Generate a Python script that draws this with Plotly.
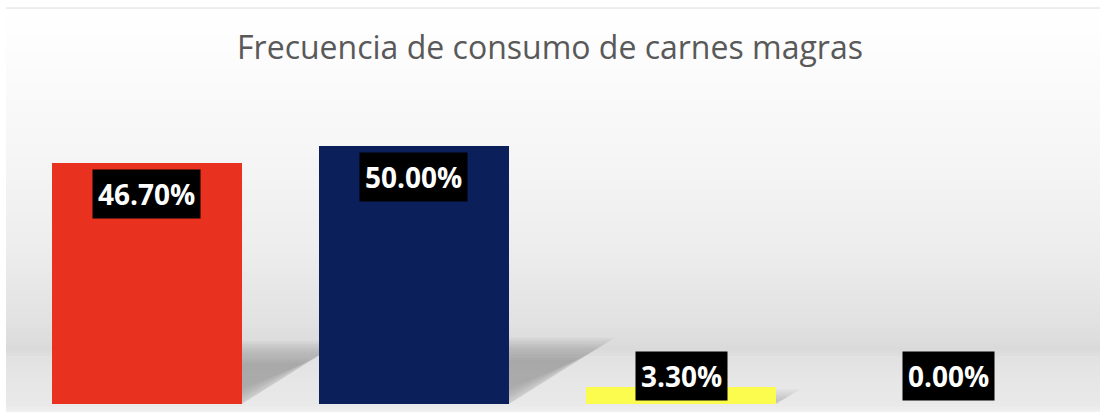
import numpy as np
import plotly.graph_objects as go

# Chart data
categories = ["Diario", "Semanal", "Mensual", "Nunca"]
values = [46.7, 50.0, 3.3, 0.0]
bar_colors = ["#E8311F", "#0B1F5B", "#FCFC4E", "#70AD47"]
title_text = "Frecuencia de consumo de carnes magras"

W, H = 1100, 412
M_L, M_R, M_T, M_B = 13, 18, 94, 8
PLOT_H = H - M_T - M_B
Y_MAX = 60.1
BAR_W = 0.71

x_pos = list(range(len(categories)))

fig = go.Figure()
fig.add_trace(go.Bar(
    x=x_pos, y=values, width=BAR_W,
    marker=dict(color=bar_colors, line=dict(width=0)),
    hoverinfo="skip", showlegend=False,
))

shapes = []


def py_to_paper(py):
    return (H - M_B - py) / PLOT_H


# Soft vertical background gradient (white at top, grey floor at the bottom)
stops = [(8, 255), (60, 252), (150, 246), (250, 237), (320, 226),
         (350, 218), (358, 226), (380, 230), (404, 233), (412, 240)]
sp = np.array([s[0] for s in stops], dtype=float)
sv = np.array([s[1] for s in stops], dtype=float)
band = 3
x0p = (6 - M_L) / (W - M_L - M_R)
x1p = (W - M_L) / (W - M_L - M_R)
for top in range(8, H, band):
    mid = top + band / 2
    g = int(round(np.interp(mid, sp, sv)))
    shapes.append(dict(
        type="rect", xref="paper", yref="paper", layer="below",
        x0=x0p, x1=x1p, y0=py_to_paper(min(top + band, H)), y1=py_to_paper(top),
        fillcolor=f"rgb({g},{g},{g})", line=dict(width=0),
    ))
shapes.append(dict(
    type="line", xref="paper", yref="paper", layer="below",
    x0=x0p, x1=x1p, y0=py_to_paper(8), y1=py_to_paper(8),
    line=dict(color="#dcdcdc", width=1),
))

# Cast shadows behind each bar, blurred by stacking translucent layers
for i, v in enumerate(values):
    if v <= 0:
        continue
    xr = i + BAR_W / 2
    h_top = v * 0.215
    d = v * 0.0066
    y_low = 0.8
    for s in np.linspace(-1.0, 1.0, 15):
        e_x = s * 0.07
        e_y = s * 2.2
        pts = [
            (xr, max(y_low - e_y, 0)),
            (xr, h_top + e_y),
            (xr + d + e_x, h_top + e_y),
        ]
        path = "M " + " L ".join(f"{px:.4f},{pyv:.4f}" for px, pyv in pts) + " Z"
        shapes.append(dict(
            type="path", xref="x", yref="y", layer="below", path=path,
            fillcolor="rgba(105,105,105,0.045)", line=dict(width=0),
        ))

# Value labels in black boxes
annotations = []
for i, v in enumerate(values):
    annotations.append(dict(
        x=i, y=max(v, 11.4), xref="x", yref="y",
        text=f"<b>{v:.2f}%</b>", showarrow=False,
        yanchor="top", yshift=-6,
        bgcolor="#000000", borderpad=5,
        font=dict(family="Open Sans", size=28, color="#ffffff"),
    ))

fig.update_layout(
    width=W, height=H,
    margin=dict(l=M_L, r=M_R, t=M_T, b=M_B, pad=0),
    paper_bgcolor="#ffffff", plot_bgcolor="rgba(0,0,0,0)",
    title=dict(
        text=title_text, x=0.5, xref="container", xanchor="center",
        y=1 - 48 / H, yref="container", yanchor="middle",
        font=dict(family="Open Sans", size=32, color="#595959"),
    ),
    xaxis=dict(range=[-0.5, len(categories) - 0.5], visible=False, fixedrange=True),
    yaxis=dict(range=[0, Y_MAX], visible=False, fixedrange=True),
    shapes=shapes, annotations=annotations,
    bargap=0,
)

fig.write_html("out.html", config={"displayModeBar": False})
